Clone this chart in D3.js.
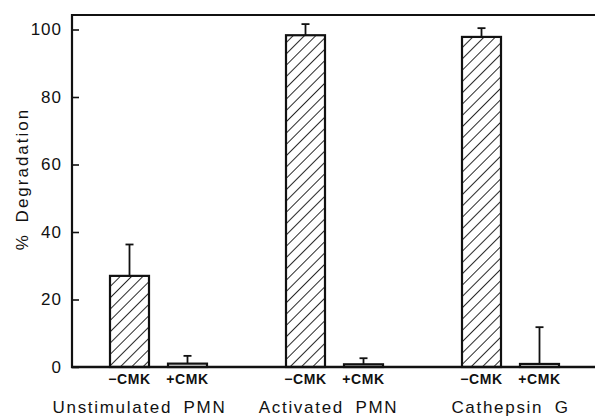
<!DOCTYPE html>
<html lang="en">
<head>
<meta charset="UTF-8">
<title>% Degradation</title>
<script src="https://d3js.org/d3.v7.min.js"></script>
<style>
  body { margin: 0; background: #fff; }
  text { font-family: "Liberation Sans", Arial, sans-serif; fill: #111; }
</style>
</head>
<body>
<svg id="chart" width="595" height="416"></svg>
<script>
// data
const groups = ["Unstimulated PMN", "Activated PMN", "Cathepsin G"];
const treatments = ["\u2212CMK", "+CMK"];
const means = [27, 1, 98.3, 0.8, 97.8, 0.9];
const errTops = [36.3, 3.3, 101.6, 2.6, 100.4, 11.8];
const yTicks = [0, 20, 40, 60, 80, 100];

const svg = d3.select("#chart");
const W = 595;
const plotLeft = 72, plotTop = 15, plotBottom = 367;

// scales
const y = d3.scaleLinear().domain([0, 100]).range([plotBottom, 29.5]);
const xGroup = d3.scaleBand().domain(groups).range([70.5, 598.5]);
const xInner = d3.scalePoint().domain(treatments).range([59, 117]);
const barW = 39;

const rows = [];
groups.forEach((g, gi) => {
    treatments.forEach((t, ti) => {
        const k = gi * 2 + ti;
        rows.push({ group: g, treat: t, v: means[k], e: errTops[k] });
    });
});
const cx = d => xGroup(d.group) + xInner(d.treat);

// hatch pattern
const defs = svg.append("defs");
const pat = defs.append("pattern")
    .attr("id", "hatch")
    .attr("patternUnits", "userSpaceOnUse")
    .attr("width", 8).attr("height", 8)
    .attr("patternTransform", "rotate(45)");
pat.append("rect").attr("width", 8).attr("height", 8).attr("fill", "#fff");
pat.append("line")
    .attr("x1", 0).attr("y1", 0).attr("x2", 0).attr("y2", 8)
    .attr("stroke", "#111").attr("stroke-width", 1.8);

// error bars (behind bars)
const err = svg.append("g").attr("stroke", "#111").attr("stroke-width", 1.8);
err.selectAll("line.stem").data(rows).join("line")
    .attr("class", "stem")
    .attr("x1", cx).attr("x2", cx)
    .attr("y1", d => y(d.v)).attr("y2", d => y(d.e));
err.selectAll("line.cap").data(rows).join("line")
    .attr("class", "cap")
    .attr("x1", d => cx(d) - 4).attr("x2", d => cx(d) + 4)
    .attr("y1", d => y(d.e)).attr("y2", d => y(d.e));

// bars
svg.append("g").selectAll("rect").data(rows).join("rect")
    .attr("x", d => cx(d) - barW / 2)
    .attr("width", barW)
    .attr("y", d => y(d.v))
    .attr("height", d => plotBottom - y(d.v))
    .attr("fill", (d, i) => i % 2 === 0 ? "url(#hatch)" : "#fff")
    .attr("stroke", "#111")
    .attr("stroke-width", 2.2);

// frame: top line, left axis, baseline
svg.append("line").attr("x1", plotLeft).attr("x2", W).attr("y1", plotTop).attr("y2", plotTop)
    .attr("stroke", "#111").attr("stroke-width", 2);

const yAxis = svg.append("g")
    .attr("transform", `translate(${plotLeft},0)`)
    .call(d3.axisRight(y).tickValues(yTicks).tickSize(7).tickFormat(d3.format("d")));
yAxis.select(".domain").remove();
yAxis.selectAll(".tick line").attr("stroke", "#111").attr("stroke-width", 1.6);
yAxis.selectAll(".tick text")
    .attr("x", -10)
    .attr("text-anchor", "end")
    .style("font-size", "17px")
    .style("letter-spacing", "1px")
    .attr("fill", "#111");
svg.append("line").attr("x1", plotLeft).attr("x2", plotLeft).attr("y1", plotTop - 1).attr("y2", plotBottom + 1)
    .attr("stroke", "#111").attr("stroke-width", 2.2);
svg.append("line").attr("x1", plotLeft - 1).attr("x2", W).attr("y1", plotBottom).attr("y2", plotBottom)
    .attr("stroke", "#111").attr("stroke-width", 2.4);

// treatment labels
svg.append("g").selectAll("text").data(rows).join("text")
    .attr("x", cx)
    .attr("y", 384)
    .attr("text-anchor", "middle")
    .style("font-size", "14px")
    .style("font-weight", "bold")
    .style("letter-spacing", "0.6px")
    .text(d => d.treat);

// group labels
const labelShift = [-19, -6, 0];
svg.append("g").selectAll("text").data(groups).join("text")
    .attr("x", (d, i) => xGroup(d) + xGroup.bandwidth() / 2 + labelShift[i])
    .attr("y", 413)
    .attr("text-anchor", "middle")
    .style("font-size", "17px")
    .style("letter-spacing", "1.7px")
    .style("word-spacing", "5px")
    .text(d => d);

// y title
svg.append("text")
    .attr("transform", "translate(28,179) rotate(-90)")
    .attr("text-anchor", "middle")
    .style("font-size", "17px")
    .style("letter-spacing", "2px")
    .style("word-spacing", "4px")
    .text("% Degradation");
</script>
</body>
</html>
